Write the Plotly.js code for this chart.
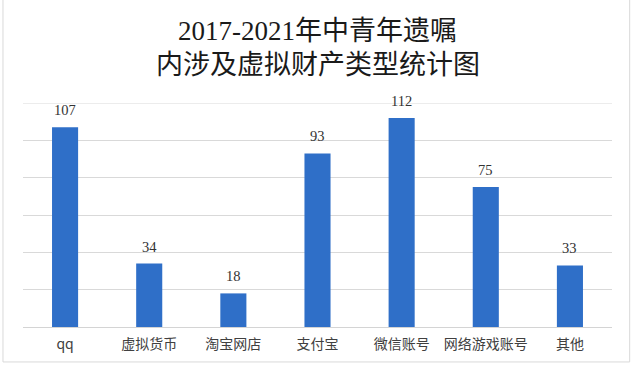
<!DOCTYPE html>
<html>
<head>
<meta charset="utf-8">
<script src="https://cdn.plot.ly/plotly-3.0.1.min.js"></script>
<style>
html,body{margin:0;padding:0;background:#fff;}
#chart{width:640px;height:374px;}
</style>
</head>
<body>
<div id="chart"></div>
<script>
var categories = ["qq", "虚拟货币", "淘宝网店", "支付宝", "微信账号", "网络游戏账号", "其他"];
var counts = [107, 34, 18, 93, 112, 75, 33];
var titleLines = ["2017-2021年中青年遗嘱", "内涉及虚拟财产类型统计图"];

var cjk = '"Noto Sans CJK SC", "Noto Sans", sans-serif';
var serif = '"Liberation Serif", "DejaVu Serif", serif';
var titleFont = '"Liberation Serif", "Noto Sans CJK SC", serif';

var trace = {
  type: 'bar',
  x: categories,
  y: counts,
  marker: {color: '#2F6FC8'},
  hoverinfo: 'x+y'
};

var annotations = categories.map(function(c, i){
  return {
    x: c, y: counts[i], xref: 'x', yref: 'y',
    text: String(counts[i]), showarrow: false,
    yanchor: 'bottom', yshift: 7,
    font: {family: serif, size: 14.5, color: '#333333'}
  };
});

var titleY = [1.321, 1.170];
titleLines.forEach(function(t, i){
  annotations.push({
    x: 0.5, y: titleY[i], xref: 'paper', yref: 'paper',
    xanchor: 'center', yanchor: 'middle',
    text: t, showarrow: false,
    font: {family: titleFont, size: 27, color: '#1a1a1a'}
  });
});

var layout = {
  width: 640, height: 374,
  margin: {l: 23, r: 28, t: 103, b: 47},
  paper_bgcolor: '#ffffff',
  plot_bgcolor: '#ffffff',
  showlegend: false,
  bargap: 0.69,
  xaxis: {
    type: 'category',
    showgrid: false,
    showline: true, linecolor: '#d4d4d4', linewidth: 1,
    ticks: '',
    ticklabelstandoff: 4,
    tickfont: {family: cjk, size: 14, color: '#404040'},
    fixedrange: true
  },
  yaxis: {
    range: [0, 120],
    tick0: 0,
    dtick: 20,
    showgrid: true, gridcolor: '#d9d9d9', gridwidth: 1,
    showticklabels: false,
    zeroline: false,
    showline: false,
    ticks: '',
    fixedrange: true
  },
  annotations: annotations,
  shapes: [{
    type: 'rect', xref: 'paper', yref: 'paper',
    x0: -0.034, x1: 1.030, y0: -0.156, y1: 1.47,
    line: {color: '#d9d9d9', width: 1}, fillcolor: 'rgba(0,0,0,0)',
    layer: 'below'
  }, {
    type: 'line', xref: 'paper', yref: 'y',
    x0: 0, x1: 1, y0: 120, y1: 120,
    line: {color: '#d9d9d9', width: 1},
    layer: 'below'
  }]
};

Plotly.newPlot('chart', [trace], layout, {displayModeBar: false, staticPlot: true});
</script>
</body>
</html>
